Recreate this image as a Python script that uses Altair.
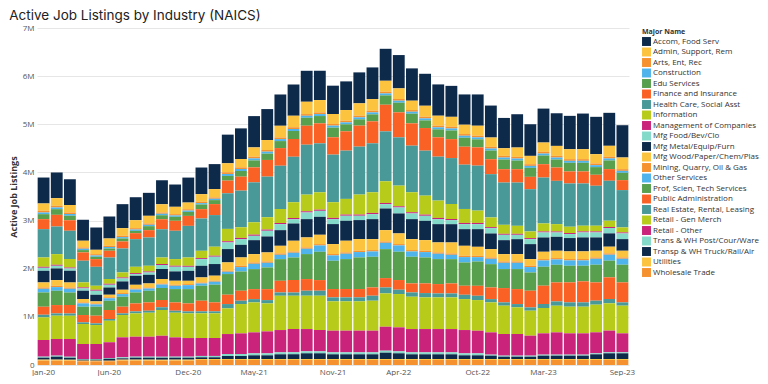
import altair as alt
import pandas as pd

months = ["Jan-20", "Feb-20", "Mar-20", "Apr-20", "May-20", "Jun-20", "Jul-20", "Aug-20", "Sep-20", "Oct-20", "Nov-20", "Dec-20",
          "Jan-21", "Feb-21", "Mar-21", "Apr-21", "May-21", "Jun-21", "Jul-21", "Aug-21", "Sep-21", "Oct-21", "Nov-21", "Dec-21",
          "Jan-22", "Feb-22", "Mar-22", "Apr-22", "May-22", "Jun-22", "Jul-22", "Aug-22", "Sep-22", "Oct-22", "Nov-22", "Dec-22",
          "Jan-23", "Feb-23", "Mar-23", "Apr-23", "May-23", "Jun-23", "Jul-23", "Aug-23", "Sep-23"]

tick_labels = ["Jan-20", "Jun-20", "Dec-20", "May-21", "Nov-21", "Apr-22", "Oct-22", "Mar-23", "Sep-23"]

categories = ["Accom, Food Serv", "Admin, Support, Rem", "Arts, Ent, Rec", "Construction", "Edu Services",
              "Finance and Insurance", "Health Care, Social Asst", "Information", "Management of Companies",
              "Mfg Food/Bev/Clo", "Mfg Metal/Equip/Furn", "Mfg Wood/Paper/Chem/Plas", "Mining, Quarry, Oil & Gas",
              "Other Services", "Prof, Scien, Tech Services", "Public Administration", "Real Estate, Rental, Leasing",
              "Retail - Gen Merch", "Retail - Other", "Trans & WH Post/Cour/Ware", "Transp & WH Truck/Rail/Air",
              "Utilities", "Wholesale Trade"]

palette = ["#0e2a4b", "#fcc33f", "#f5922f", "#4fb4eb", "#59a04e", "#fa6225", "#4a9999", "#b7cb1b", "#c9237b", "#84dac9"]
colors = [palette[i % 10] for i in range(len(categories))]

# values in thousands of listings
accom = [539,533,539,436,463,456,498,477,477,498,463,519,553,519,595,636,650,643,650,650,643,609,588,595,643,657,664,692,671,664,650,643,629,650,664,629,692,657,705,678,692,740,775,685,671]
admin = [152,159,152,138,90,152,159,166,159,173,152,138,159,173,187,173,194,207,242,242,256,256,207,221,256,242,228,221,194,228,207,207,194,207,194,159,194,173,194,207,207,207,194,228,242]
arts = [35,35,35,28,28,28,28,28,28,28,28,28,28,28,35,35,35,35,35,35,35,35,35,35,35,35,35,35,35,35,35,35,35,35,35,35,35,35,35,35,35,35,35,35,35]
construction = [35,35,35,28,28,28,28,28,28,28,28,28,28,28,41,41,41,41,41,41,41,41,41,41,41,41,41,41,41,41,41,41,41,41,41,41,41,41,41,41,41,41,41,41,41]
edu = [104,118,90,48,48,48,62,48,83,83,83,83,97,83,97,118,145,131,145,166,166,152,201,145,131,145,194,201,201,159,166,180,187,166,180,201,180,187,180,166,180,180,159,180,152]
finance = [207,242,221,173,159,138,145,124,152,207,207,207,194,228,263,290,311,346,367,367,394,415,360,401,436,456,553,519,463,470,401,394,373,380,311,277,277,256,277,277,249,249,228,242,207]
health = [588,574,588,450,394,450,498,574,588,588,588,657,671,657,740,761,830,844,899,947,1037,1017,989,1003,996,1017,1037,1003,968,934,913,954,920,934,899,878,899,878,954,899,899,878,830,830,775]
information = [194,221,173,104,83,97,104,131,118,138,138,173,152,187,256,221,256,256,290,325,346,360,325,325,415,429,450,429,415,394,360,311,290,256,201,187,166,138,166,152,131,118,118,131,104]
management = [21,21,21,21,21,21,21,21,21,21,21,21,21,21,25,25,25,25,25,25,25,25,25,25,25,25,25,25,25,25,25,25,25,25,21,21,21,21,21,21,21,21,21,21,21]
mfg_food = [62,55,48,48,83,55,62,35,48,83,97,83,138,152,138,118,90,118,124,90,138,124,104,104,90,104,90,124,118,104,104,83,104,104,111,111,90,104,104,90,83,104,104,111,118]
mfg_metal = [242,242,242,173,138,152,173,187,180,207,194,207,242,242,277,263,290,332,325,360,380,373,415,415,394,415,450,415,415,401,380,380,346,367,325,290,311,311,297,290,277,290,277,277,242]
mfg_wood = [104,118,104,69,41,55,69,76,83,90,83,69,104,104,173,173,173,187,159,221,207,194,207,242,242,228,235,221,228,221,207,228,207,187,173,152,152,138,152,152,159,159,138,138,138]
mining = [28,28,28,21,21,21,21,21,21,21,21,21,21,21,21,28,28,28,28,28,28,28,28,28,28,28,28,28,28,28,28,28,28,28,28,28,28,28,28,28,28,28,28,28,28]
other = [76,76,76,69,48,48,55,62,48,76,69,83,48,62,48,90,111,97,90,97,111,131,111,111,111,111,131,131,111,111,111,90,111,90,111,131,131,111,131,111,111,111,124,124,124]
prof = [297,297,263,173,187,194,207,228,242,249,277,297,311,367,429,401,415,450,450,470,519,588,588,622,657,636,602,588,553,539,519,505,484,505,484,394,415,380,394,367,346,325,367,346,367]
public_admin = [166,173,173,152,159,187,138,166,173,152,173,166,221,187,194,207,207,228,242,256,242,221,173,173,173,173,194,201,187,201,194,207,187,207,242,297,311,346,380,394,415,436,380,450,415]
real_estate = [55,48,48,35,35,35,35,41,41,55,41,41,41,41,90,69,69,69,69,69,104,104,83,83,83,104,124,90,90,90,83,83,90,90,69,69,69,69,83,90,90,90,83,90,69]
gen_merch = [470,484,484,415,394,450,463,484,498,533,512,512,512,512,533,609,622,581,712,692,692,712,609,609,609,622,692,692,671,657,657,657,643,636,622,588,553,519,526,553,553,553,574,567,574]
retail_other = [346,346,367,311,311,325,415,415,415,436,401,387,373,373,415,429,436,456,463,484,463,443,450,450,450,450,498,498,484,484,484,484,484,470,463,450,450,415,443,463,443,443,436,450,394]
trans_post = [21,21,21,14,14,14,21,21,21,21,21,21,28,28,41,41,41,41,41,41,41,41,41,41,41,41,41,41,41,41,41,41,41,41,21,21,21,21,21,21,21,21,21,21,21]
transp_truck = [41,62,41,21,21,41,28,41,41,41,41,41,35,35,62,62,76,76,97,97,118,118,97,97,97,97,131,118,97,97,97,97,76,76,69,48,48,48,69,69,69,69,97,118,118]
utilities = [21,21,21,14,14,14,21,21,21,21,21,21,21,21,21,21,21,21,21,21,21,21,21,21,21,21,21,21,21,21,21,21,21,21,21,21,21,21,21,21,21,21,21,21,21]
wholesale = [90,90,90,76,76,76,90,90,90,90,90,90,104,104,104,104,104,104,104,104,104,104,104,104,104,104,104,104,104,104,104,104,104,104,104,104,104,104,104,104,104,104,104,104,104]

series = [accom, admin, arts, construction, edu, finance, health, information, management, mfg_food,
          mfg_metal, mfg_wood, mining, other, prof, public_admin, real_estate, gen_merch, retail_other,
          trans_post, transp_truck, utilities, wholesale]

rows = []
n = len(categories)
for ci, (cat, vals) in enumerate(zip(categories, series)):
    for m, v in zip(months, vals):
        rows.append({"Month": m, "Major Name": cat, "Listings": v * 1000, "stackpos": n - 1 - ci})
df = pd.DataFrame(rows)

chart = alt.Chart(df).mark_bar().encode(
    x=alt.X("Month:N", sort=months,
            scale=alt.Scale(paddingInner=0.1, paddingOuter=0.05),
            axis=alt.Axis(values=tick_labels, title=None, labelAngle=0, ticks=False, domain=False,
                          labelFontSize=8, labelColor="#555555", labelPadding=3, labelFont="Open Sans")),
    y=alt.Y("Listings:Q", stack="zero",
            scale=alt.Scale(domain=[0, 7000000]),
            axis=alt.Axis(values=[0, 1000000, 2000000, 3000000, 4000000, 5000000, 6000000, 7000000],
                          labelExpr="datum.value == 0 ? '0' : (datum.value / 1000000) + 'M'",
                          title="Active Job Listings", titleFontSize=9, titleFont="Open Sans",
                          titleFontWeight="bold", titleColor="#333333", titlePadding=4,
                          labelFontSize=8, labelColor="#555555", labelFont="Open Sans", labelPadding=3,
                          ticks=False, domain=False, gridColor="#e6e6e6")),
    color=alt.Color("Major Name:N", scale=alt.Scale(domain=categories, range=colors),
                    legend=alt.Legend(title="Major Name", titleFontSize=7, titleFont="Open Sans",
                                      titleColor="#333333", titleFontWeight="bold", titlePadding=2,
                                      labelFontSize=8, labelFont="Open Sans", labelColor="#333333",
                                      labelOffset=2,
                                      symbolType="square", symbolSize=80, symbolStrokeWidth=0,
                                      rowPadding=1.5, offset=13, labelLimit=200)),
    order=alt.Order("stackpos:Q", sort="ascending"),
).properties(
    width=751, height=368,
    autosize=alt.AutoSizeParams(type="fit", contains="padding"),
    padding={"left": 1, "top": 0, "right": 0, "bottom": 0},
    title=alt.TitleParams("Active Job Listings by Industry (NAICS)", anchor="start", frame="bounds",
                          fontSize=13.5, font="Inter", fontWeight="normal", color="#222222", offset=2),
).configure_view(stroke=None)

chart.save("out.html", embed_options={"renderer": "svg", "actions": False})
